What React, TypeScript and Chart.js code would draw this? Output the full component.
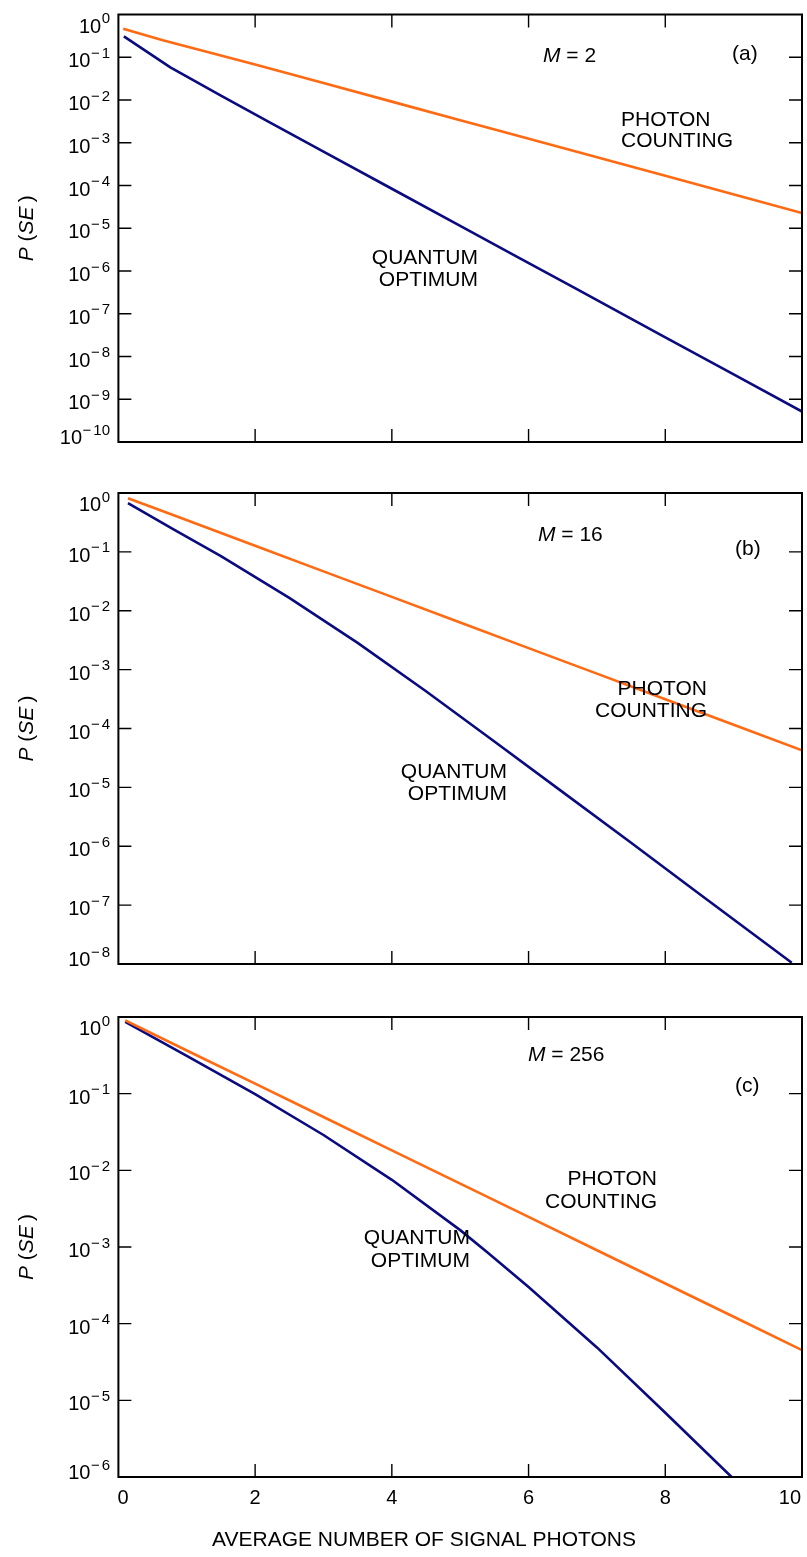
import React, { useEffect, useRef } from "react";
import { Chart, registerables } from "chart.js";

Chart.register(...registerables);

// ---------------- data ----------------
const X_TICKS = [0, 2, 4, 6, 8, 10];

// (a) M = 2
const A_EXPONENTS = [0, -1, -2, -3, -4, -5, -6, -7, -8, -9, -10];
const A_PHOTON_X = [0.07, 0.65, 2.0, 3.0, 4.0, 5.0, 5.6, 6.8, 8.0, 9.1, 10.0];
const A_PHOTON_Y = [0.467, 0.25, 0.0678, 0.0249, 0.00916, 0.00337, 0.00185, 0.000557, 0.000168, 0.0000559, 0.0000227];
const A_QUANTUM_X = [0.08, 0.76, 1.5, 2.2, 3.0, 4.0, 5.0, 5.8, 6.7, 7.96, 9.0, 10.0];
const A_QUANTUM_Y = [0.308, 0.058, 0.0126, 0.00308, 0.00062, 8.4e-5, 1.14e-5, 2.29e-6, 3.8e-7, 3.05e-8, 3.8e-9, 5.15e-10];

// (b) M = 16
const B_EXPONENTS = [0, -1, -2, -3, -4, -5, -6, -7, -8];
const B_PHOTON_X = [0.14, 0.8, 2, 3, 4, 5, 6, 7, 8, 9, 10];
const B_PHOTON_Y = [0.815, 0.422, 0.127, 0.0467, 0.0172, 0.00631, 0.00232, 0.000855, 0.000314, 0.000116, 0.0000426];
const B_QUANTUM_X = [0.14, 0.8, 1.5, 2.5, 3.5, 4.5, 5.5, 6.5, 7.5, 8.5, 9.85];
const B_QUANTUM_Y = [0.676, 0.244, 0.0849, 0.0166, 0.00285, 0.00043, 6.0e-5, 8.3e-6, 1.15e-6, 1.55e-7, 1.05e-8];

// (c) M = 256
const C_EXPONENTS = [0, -1, -2, -3, -4, -5, -6];
const C_PHOTON_X = [0.1, 1, 2, 3, 4, 5, 6, 7, 8, 9, 10];
const C_PHOTON_Y = [0.902, 0.366, 0.135, 0.0496, 0.0182, 0.00671, 0.00247, 0.000908, 0.000334, 0.000123, 0.0000452];
const C_QUANTUM_X = [0.1, 1, 2, 3, 4, 5, 5.4, 6, 7, 8, 8.97];
const C_QUANTUM_Y = [0.865, 0.311, 0.0984, 0.0289, 0.00752, 0.00166, 0.00085, 0.0003, 4.9e-5, 6.9e-6, 1.0e-6];

const LABEL_PHOTON = ["PHOTON", "COUNTING"];
const LABEL_QUANTUM = ["QUANTUM", "OPTIMUM"];
const X_TITLE = "AVERAGE NUMBER OF SIGNAL PHOTONS";

// ---------------- styles ----------------
const ORANGE = "#ff6a12";
const NAVY = "#0b0b80";
const FONT = '"Liberation Sans", Arial, Helvetica, sans-serif';
const TICK = 13;
const W = 807;

type Run = { t: string; i?: boolean };
type Annot = { runs: Run[]; x: number; y: number; align: "left" | "right" | "center" };

function fontStr(size: number, italic?: boolean) {
  return `${italic ? "italic " : ""}${size}px ${FONT}`;
}

function drawRuns(ctx: CanvasRenderingContext2D, runs: Run[], x: number, y: number, size: number, align: string) {
  const widths = runs.map((r) => {
    ctx.font = fontStr(size, r.i);
    return ctx.measureText(r.t).width;
  });
  const total = widths.reduce((a, b) => a + b, 0);
  let cx = align === "left" ? x : align === "right" ? x - total : x - total / 2;
  ctx.textAlign = "left";
  ctx.textBaseline = "alphabetic";
  runs.forEach((r, k) => {
    ctx.font = fontStr(size, r.i);
    ctx.fillText(r.t, cx, y);
    cx += widths[k];
  });
}

type PanelDef = {
  canvasTop: number;
  height: number;
  area: { left: number; right: number; top: number; bottom: number };
  exps: number[];
  photonX: number[];
  photonY: number[];
  quantumX: number[];
  quantumY: number[];
  annots: Annot[];
  showX: boolean;
};

function zip(xs: number[], ys: number[]) {
  return xs.map((x, i) => ({ x, y: ys[i] }));
}

const PANELS: PanelDef[] = [
  {
    canvasTop: 0,
    height: 460,
    area: { left: 118.4, right: 802, top: 14.5, bottom: 442 },
    exps: A_EXPONENTS,
    photonX: A_PHOTON_X,
    photonY: A_PHOTON_Y,
    quantumX: A_QUANTUM_X,
    quantumY: A_QUANTUM_Y,
    annots: [
      { runs: [{ t: "M", i: true }, { t: " = 2" }], x: 543, y: 62, align: "left" },
      { runs: [{ t: "(a)" }], x: 732, y: 60, align: "left" },
      { runs: [{ t: LABEL_PHOTON[0] }], x: 621, y: 126, align: "left" },
      { runs: [{ t: LABEL_PHOTON[1] }], x: 621, y: 147, align: "left" },
      { runs: [{ t: LABEL_QUANTUM[0] }], x: 478, y: 264, align: "right" },
      { runs: [{ t: LABEL_QUANTUM[1] }], x: 478, y: 286, align: "right" },
    ],
    showX: false,
  },
  {
    canvasTop: 460,
    height: 520,
    area: { left: 118.4, right: 802, top: 493, bottom: 964 },
    exps: B_EXPONENTS,
    photonX: B_PHOTON_X,
    photonY: B_PHOTON_Y,
    quantumX: B_QUANTUM_X,
    quantumY: B_QUANTUM_Y,
    annots: [
      { runs: [{ t: "M", i: true }, { t: " = 16" }], x: 538, y: 541, align: "left" },
      { runs: [{ t: "(b)" }], x: 735, y: 555, align: "left" },
      { runs: [{ t: LABEL_PHOTON[0] }], x: 707, y: 695, align: "right" },
      { runs: [{ t: LABEL_PHOTON[1] }], x: 707, y: 717, align: "right" },
      { runs: [{ t: LABEL_QUANTUM[0] }], x: 507, y: 778, align: "right" },
      { runs: [{ t: LABEL_QUANTUM[1] }], x: 507, y: 800, align: "right" },
    ],
    showX: false,
  },
  {
    canvasTop: 980,
    height: 577,
    area: { left: 118.4, right: 802, top: 1017, bottom: 1477 },
    exps: C_EXPONENTS,
    photonX: C_PHOTON_X,
    photonY: C_PHOTON_Y,
    quantumX: C_QUANTUM_X,
    quantumY: C_QUANTUM_Y,
    annots: [
      { runs: [{ t: "M", i: true }, { t: " = 256" }], x: 528, y: 1061, align: "left" },
      { runs: [{ t: "(c)" }], x: 735, y: 1092, align: "left" },
      { runs: [{ t: LABEL_PHOTON[0] }], x: 657, y: 1185, align: "right" },
      { runs: [{ t: LABEL_PHOTON[1] }], x: 657, y: 1208, align: "right" },
      { runs: [{ t: LABEL_QUANTUM[0] }], x: 470, y: 1244, align: "right" },
      { runs: [{ t: LABEL_QUANTUM[1] }], x: 470, y: 1267, align: "right" },
    ],
    showX: true,
  },
];

function makeDecor(p: PanelDef) {
  return {
    id: "decor",
    afterDraw(chart: any) {
      const ctx: CanvasRenderingContext2D = chart.ctx;
      const { left, right, top, bottom } = chart.chartArea;
      const xs = chart.scales.x;
      const ys = chart.scales.y;
      const off = p.canvasTop;
      ctx.save();
      ctx.fillStyle = "#000";
      ctx.strokeStyle = "#000";
      // frame
      ctx.lineWidth = 2;
      ctx.strokeRect(left, top, right - left, bottom - top);
      // inner ticks
      ctx.lineWidth = 1.4;
      ctx.beginPath();
      p.exps.forEach((e) => {
        const y = ys.getPixelForValue(Math.pow(10, e));
        if (y <= top + 1 || y >= bottom - 1) return;
        ctx.moveTo(left, y);
        ctx.lineTo(left + TICK, y);
        ctx.moveTo(right, y);
        ctx.lineTo(right - TICK, y);
      });
      X_TICKS.forEach((v) => {
        const x = xs.getPixelForValue(v);
        if (x <= left + 1 || x >= right - 1) return;
        ctx.moveTo(x, top);
        ctx.lineTo(x, top + TICK);
        ctx.moveTo(x, bottom);
        ctx.lineTo(x, bottom - TICK);
      });
      ctx.stroke();

      // y tick labels 10^e
      const R = 110;
      const last = p.exps[p.exps.length - 1];
      p.exps.forEach((e) => {
        let y = ys.getPixelForValue(Math.pow(10, e));
        if (e === 0) y += 8;
        else if (e === last) y -= 8;
        ctx.textAlign = "left";
        ctx.textBaseline = "alphabetic";
        ctx.font = fontStr(15);
        let x0: number;
        if (e < 0) {
          const digits = String(-e);
          const wm = ctx.measureText("\u2212").width;
          const wd = ctx.measureText(digits).width;
          const gap = 2;
          x0 = R - (wm + gap + wd);
          ctx.fillText("\u2212", x0, y + 0.5);
          ctx.fillText(digits, x0 + wm + gap, y + 0.5);
        } else {
          const wd = ctx.measureText("0").width;
          x0 = R - wd;
          ctx.fillText("0", x0, y + 0.5);
        }
        ctx.font = fontStr(20);
        ctx.textAlign = "right";
        ctx.fillText("10", x0 - 0.5, y + 10);
      });

      // y axis title
      ctx.save();
      ctx.translate(33, (top + bottom) / 2);
      ctx.rotate(-Math.PI / 2);
      drawRuns(ctx, [{ t: "P", i: true }, { t: " (" }, { t: "SE", i: true }, { t: "\u2009)" }], 0, 0, 21, "center");
      ctx.restore();

      // annotations
      p.annots.forEach((a) => drawRuns(ctx, a.runs, a.x, a.y - off, 21, a.align));

      // x labels
      if (p.showX) {
        ctx.font = fontStr(20);
        ctx.textBaseline = "alphabetic";
        X_TICKS.forEach((v, k) => {
          const s = String(v);
          const x = xs.getPixelForValue(v);
          const w = ctx.measureText(s).width;
          let cx = x;
          if (k === 0) cx = Math.max(x, left + w / 2 - 1);
          if (k === X_TICKS.length - 1) cx = Math.min(x, right - w / 2 - 1);
          ctx.textAlign = "center";
          ctx.fillText(s, cx, bottom + 27);
        });
        ctx.font = fontStr(21);
        ctx.textAlign = "center";
        ctx.fillText(X_TITLE, 424, 1546 - off);
      }
      ctx.restore();
    },
  };
}

function Panel({ p }: { p: PanelDef }) {
  const ref = useRef<HTMLCanvasElement>(null);
  useEffect(() => {
    const off = p.canvasTop;
    const chart = new Chart(ref.current as HTMLCanvasElement, {
      type: "line",
      data: {
        datasets: [
          {
            label: "Photon counting",
            data: zip(p.photonX, p.photonY),
            borderColor: ORANGE,
            borderWidth: 2.6,
            pointRadius: 0,
            tension: 0,
            fill: false,
            borderJoinStyle: "round",
          },
          {
            label: "Quantum optimum",
            data: zip(p.quantumX, p.quantumY),
            borderColor: NAVY,
            borderWidth: 2.6,
            pointRadius: 0,
            tension: 0,
            fill: false,
            borderJoinStyle: "round",
          },
        ],
      },
      options: {
        responsive: false,
        animation: false,
        events: [],
        layout: {
          padding: {
            left: p.area.left,
            right: W - p.area.right,
            top: p.area.top - off,
            bottom: p.height - (p.area.bottom - off),
          },
        },
        plugins: { legend: { display: false }, tooltip: { enabled: false }, title: { display: false } },
        scales: {
          x: { type: "linear", min: 0, max: 10, display: false },
          y: { type: "logarithmic", min: Math.pow(10, p.exps[p.exps.length - 1]), max: 1, display: false },
        },
      },
      plugins: [makeDecor(p)],
    } as any);
    return () => chart.destroy();
  }, [p]);
  return (
    <canvas
      ref={ref}
      width={W}
      height={p.height}
      style={{ position: "absolute", left: 0, top: p.canvasTop, width: W, height: p.height }}
    />
  );
}

export default function App() {
  return (
    <div style={{ position: "absolute", left: 0, top: 0, width: W, height: 1557, background: "#fff" }}>
      {PANELS.map((p, i) => (
        <Panel key={i} p={p} />
      ))}
    </div>
  );
}
